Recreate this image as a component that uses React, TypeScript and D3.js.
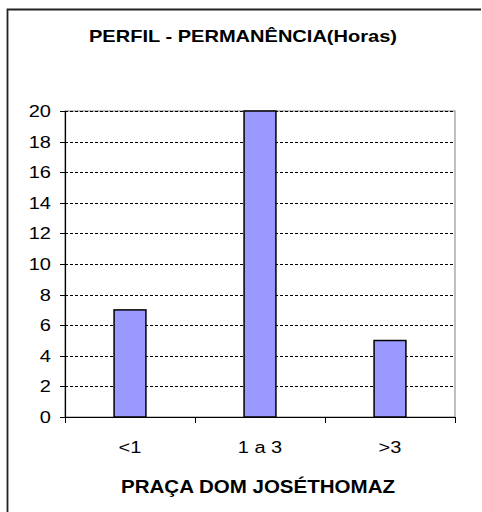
import React from 'react';
import * as d3 from 'd3';

const categories = ['<1', '1 a 3', '>3'];
const values = [7, 20, 5];
const yTicks = [0, 2, 4, 6, 8, 10, 12, 14, 16, 18, 20];

const chartTitle = 'PERFIL  - PERMANÊNCIA(Horas)';
const axisTitle = 'PRAÇA DOM JOSÉTHOMAZ';

const W = 482;
const H = 512;
const plot = { left: 65, right: 455, top: 111, bottom: 417 };
const font = 'Liberation Sans, Arial, sans-serif';
const stretch = 1.25;

const App: React.FC = () => {
  const x = d3.scaleBand<string>().domain(categories).range([plot.left, plot.right]).padding(0);
  const y = d3.scaleLinear().domain([0, 20]).range([plot.bottom, plot.top]);
  const barW = x.bandwidth() * 0.245;

  // tick positions on the category axis: band edges
  const xEdges = [...categories.map(c => x(c) as number), plot.right];

  return (
    <svg width={W} height={H} style={{ position: 'absolute', left: 0, top: 0, background: '#fff' }}>
      {/* outer chart frame (cropped on right/bottom) */}
      <path d={`M7.5,${H} V9.5 H481`} fill="none" stroke="#222" strokeWidth={1.8} />

      <text x={243} y={42} textAnchor="middle" fontFamily={font} fontWeight="bold" fontSize={17}
        textLength={308} lengthAdjust="spacingAndGlyphs">{chartTitle}</text>

      {/* plot area border */}
      <rect x={plot.left} y={plot.top} width={plot.right - plot.left} height={plot.bottom - plot.top}
        fill="none" stroke="#808080" strokeWidth={1} />

      {/* gridlines */}
      {yTicks.filter(t => t > 0).map(t => (
        <line key={t} x1={plot.left} x2={plot.right} y1={Math.round(y(t)) + 0.5} y2={Math.round(y(t)) + 0.5}
          stroke="#000" strokeWidth={1} strokeDasharray="3,2" />
      ))}

      {/* bars */}
      {categories.map((c, i) => {
        const cx = (x(c) as number) + x.bandwidth() / 2;
        return (
          <rect key={c} x={cx - barW / 2} y={y(values[i])} width={barW} height={y(0) - y(values[i])}
            fill="#9999FF" stroke="#000" strokeWidth={1.5} />
        );
      })}

      {/* y axis */}
      <line x1={plot.left + 0.5} x2={plot.left + 0.5} y1={plot.top} y2={plot.bottom} stroke="#000" strokeWidth={1.2} />
      {yTicks.map(t => {
        const ty = Math.round(y(t)) + 0.5;
        return (
          <g key={t}>
            <line x1={plot.left - 5} x2={plot.left} y1={ty} y2={ty} stroke="#000" strokeWidth={1} />
            <g transform={`translate(51,${ty + 5.8}) scale(${stretch},1)`}>
              <text x={0} y={0} textAnchor="end" fontFamily={font} fontSize={16}>{t}</text>
            </g>
          </g>
        );
      })}

      {/* x axis */}
      <line x1={plot.left} x2={plot.right} y1={plot.bottom + 0.5} y2={plot.bottom + 0.5} stroke="#000" strokeWidth={1.2} />
      {xEdges.map((ex, i) => (
        <line key={i} x1={Math.round(ex) + 0.5} x2={Math.round(ex) + 0.5} y1={plot.bottom} y2={plot.bottom + 6}
          stroke="#000" strokeWidth={1} />
      ))}
      {categories.map(c => (
        <g key={c} transform={`translate(${(x(c) as number) + x.bandwidth() / 2},453) scale(${stretch},1)`}>
          <text x={0} y={0} textAnchor="middle" fontFamily={font} fontSize={16}>{c}</text>
        </g>
      ))}

      <text x={258} y={493} textAnchor="middle" fontFamily={font} fontWeight="bold" fontSize={17.5}
        textLength={274} lengthAdjust="spacingAndGlyphs">{axisTitle}</text>
    </svg>
  );
};

export default App;
